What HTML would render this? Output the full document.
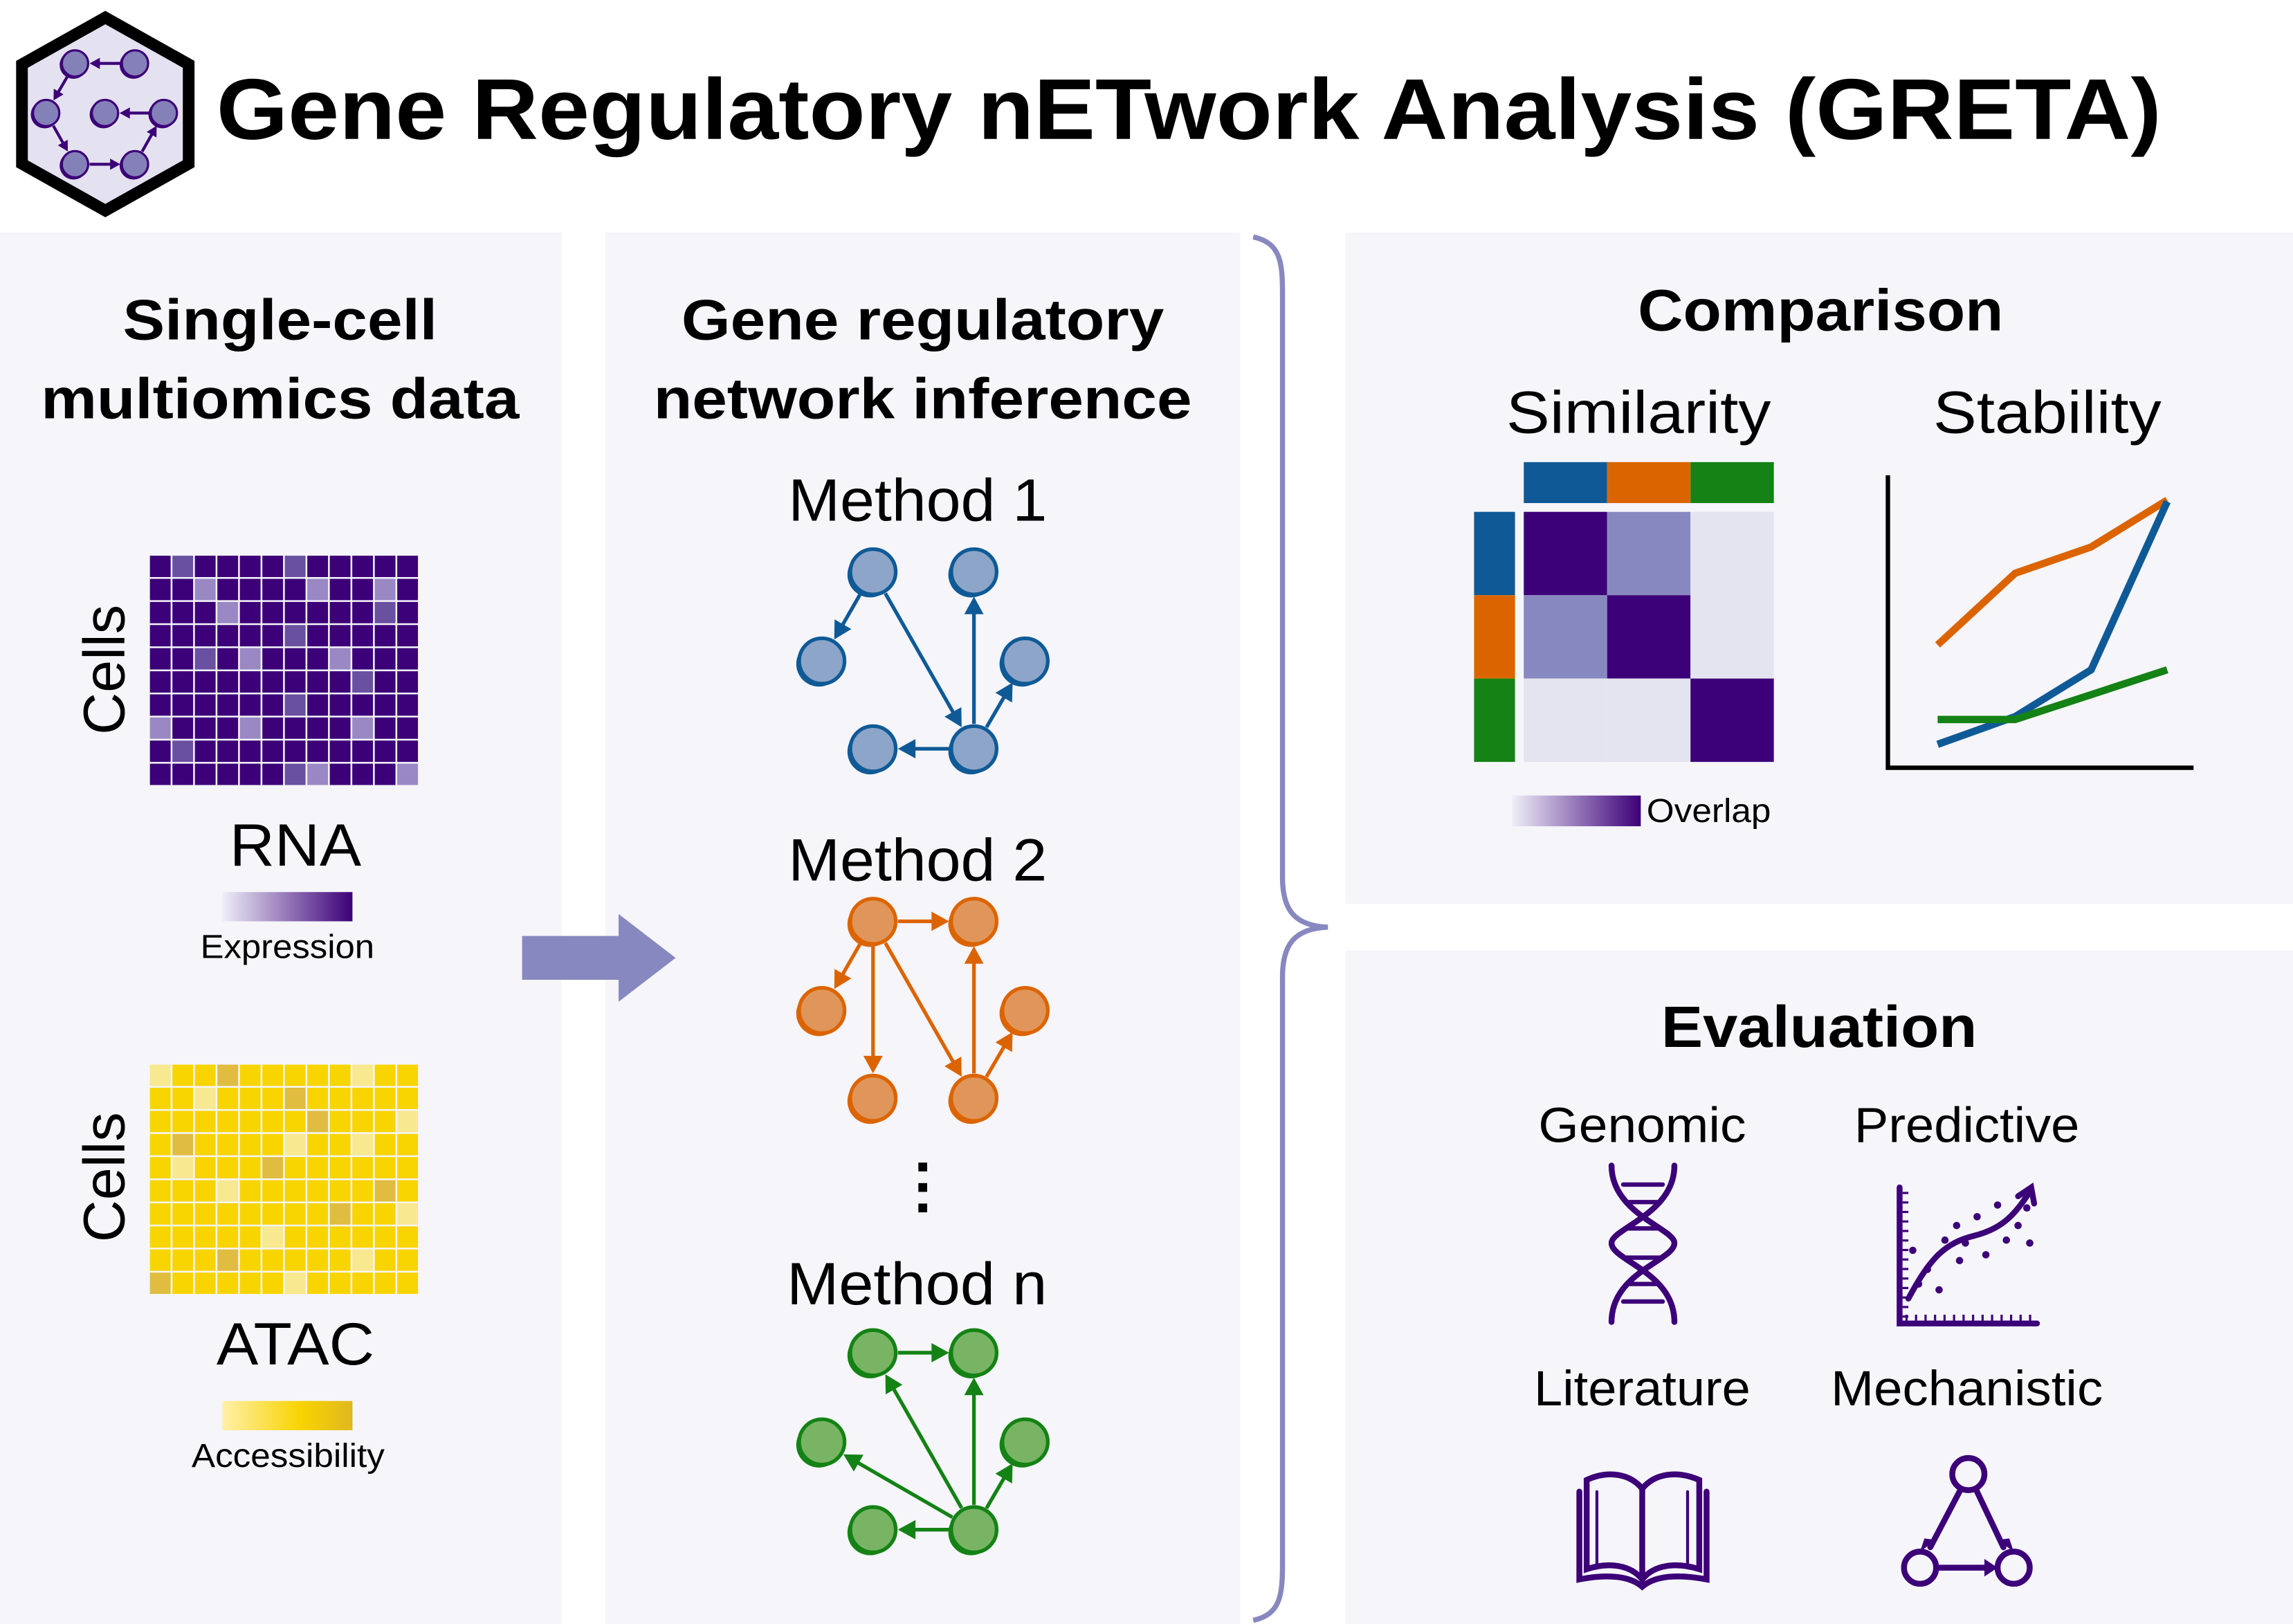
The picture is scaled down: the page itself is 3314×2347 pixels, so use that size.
<!DOCTYPE html>
<html><head><meta charset="utf-8"><style>html,body{margin:0;padding:0;background:#fff}svg{display:block}text{font-family:"Liberation Sans",Arial,sans-serif}</style></head>
<body>
<svg id="s" xmlns="http://www.w3.org/2000/svg" width="3314" height="2347" viewBox="0 0 1568 1110.5">
<defs>
<linearGradient id="gE" x1="0" x2="1"><stop offset="0" stop-color="#eeeef8"/><stop offset="1" stop-color="#3c0078"/></linearGradient>
<linearGradient id="gA" x1="0" x2="1"><stop offset="0" stop-color="#fff0a8"/><stop offset="0.6" stop-color="#f8d400"/><stop offset="1" stop-color="#e0b820"/></linearGradient>
<linearGradient id="gO" x1="0" x2="1"><stop offset="0" stop-color="#eeeef8"/><stop offset="1" stop-color="#3c0078"/></linearGradient>
</defs>
<rect width="1568" height="1110.5" fill="#fff"/>
<rect x="0" y="159" width="384" height="952" fill="#f5f5fa"/>
<rect x="414" y="159" width="434" height="952" fill="#f5f5fa"/>
<rect x="920" y="159" width="648" height="459" fill="#f5f5fa"/>
<rect x="920" y="650" width="648" height="461" fill="#f5f5fa"/>
<!-- brace -->
<path d="M857 162 C875 166 877 178 877 200 L877 600 C877 622 885 633 908 634 C885 635 877 646 877 668 L877 1070 C877 1092 875 1104 857 1108" fill="none" stroke="#8888c0" stroke-width="3.5"/>
<!-- logo -->
<polygon points="72,12 129,44 129,112 72,144 15,112 15,44" fill="#e4e2f0" stroke="#000" stroke-width="8" stroke-linejoin="miter"/>
<g id="logo"></g>
<text x="148" y="95" font-size="59" font-weight="bold" textLength="1330" lengthAdjust="spacingAndGlyphs">Gene Regulatory nETwork Analysis (GRETA)</text>
<!-- left -->
<text x="28" y="232" font-size="39" font-weight="bold" textLength="0" style="display:none"></text>
<text x="84" y="232" font-size="39" font-weight="bold" textLength="215" lengthAdjust="spacingAndGlyphs">Single-cell</text>
<text x="28" y="286" font-size="39" font-weight="bold" textLength="327" lengthAdjust="spacingAndGlyphs">multiomics data</text>
<text transform="translate(85,458) rotate(-90)" font-size="40" text-anchor="middle">Cells</text>
<text transform="translate(85,805) rotate(-90)" font-size="40" text-anchor="middle">Cells</text>
<g id="rna"></g><g id="atac"></g>
<text x="157" y="592" font-size="41" textLength="90" lengthAdjust="spacingAndGlyphs">RNA</text>
<rect x="152" y="610" width="89" height="20" fill="url(#gE)"/>
<text x="137" y="655" font-size="23" textLength="119" lengthAdjust="spacingAndGlyphs">Expression</text>
<text x="148" y="933" font-size="41" textLength="108" lengthAdjust="spacingAndGlyphs">ATAC</text>
<rect x="152" y="958" width="89" height="20" fill="url(#gA)"/>
<text x="131" y="1003" font-size="23" textLength="132" lengthAdjust="spacingAndGlyphs">Accessibility</text>
<polygon points="357,640 423,640 423,625 462,655 423,685 423,670 357,670" fill="#8888c0"/>
<!-- middle -->
<text x="466" y="232" font-size="39" font-weight="bold" textLength="330" lengthAdjust="spacingAndGlyphs">Gene regulatory</text>
<text x="447" y="286" font-size="39" font-weight="bold" textLength="368" lengthAdjust="spacingAndGlyphs">network inference</text>
<text x="539" y="356" font-size="41" textLength="177" lengthAdjust="spacingAndGlyphs">Method 1</text>
<text x="539" y="602" font-size="41" textLength="177" lengthAdjust="spacingAndGlyphs">Method 2</text>
<text x="538" y="892" font-size="41" textLength="178" lengthAdjust="spacingAndGlyphs">Method n</text>
<rect x="628" y="795" width="6" height="6" fill="#000"/><rect x="628" y="809" width="6" height="6" fill="#000"/><rect x="628" y="823" width="6" height="6" fill="#000"/>
<g id="nets"></g>
<!-- comparison -->
<text x="1120" y="226" font-size="40" font-weight="bold" textLength="250" lengthAdjust="spacingAndGlyphs">Comparison</text>
<text x="1030" y="296" font-size="41" textLength="181" lengthAdjust="spacingAndGlyphs">Similarity</text>
<text x="1322" y="296" font-size="41" textLength="156" lengthAdjust="spacingAndGlyphs">Stability</text>
<rect x="1042" y="316" width="57" height="28" fill="#0f5a96"/><rect x="1099" y="316" width="57" height="28" fill="#dc6400"/><rect x="1156" y="316" width="57" height="28" fill="#148214"/>
<rect x="1008" y="350" width="28" height="57" fill="#0f5a96"/><rect x="1008" y="407" width="28" height="57" fill="#dc6400"/><rect x="1008" y="464" width="28" height="57" fill="#148214"/>
<rect x="1042" y="350" width="57" height="57" fill="#3c0078"/><rect x="1099" y="350" width="57" height="57" fill="#8888c0"/><rect x="1156" y="350" width="57" height="57" fill="#e4e4f0"/>
<rect x="1042" y="407" width="57" height="57" fill="#8888c0"/><rect x="1099" y="407" width="57" height="57" fill="#3c0078"/><rect x="1156" y="407" width="57" height="57" fill="#e4e4f0"/>
<rect x="1042" y="464" width="57" height="57" fill="#e4e4f0"/><rect x="1099" y="464" width="57" height="57" fill="#e4e4f0"/><rect x="1156" y="464" width="57" height="57" fill="#3c0078"/>
<rect x="1034" y="544" width="88" height="21" fill="url(#gO)"/>
<text x="1126" y="562" font-size="23" textLength="85" lengthAdjust="spacingAndGlyphs">Overlap</text>
<polyline points="1291,325 1291,525 1500,525" fill="none" stroke="#000" stroke-width="3"/>
<polyline points="1325,441 1378,392 1430,374 1482,342" fill="none" stroke="#dc6400" stroke-width="5"/>
<polyline points="1325,509 1378,490 1430,458 1482,343" fill="none" stroke="#0f5a96" stroke-width="5"/>
<polyline points="1325,492 1378,492 1482,458" fill="none" stroke="#148214" stroke-width="5"/>
<!-- evaluation -->
<text x="1136" y="716" font-size="40" font-weight="bold" textLength="216" lengthAdjust="spacingAndGlyphs">Evaluation</text>
<text x="1052" y="781" font-size="34" textLength="142" lengthAdjust="spacingAndGlyphs">Genomic</text>
<text x="1268" y="781" font-size="34" textLength="154" lengthAdjust="spacingAndGlyphs">Predictive</text>
<text x="1049" y="961" font-size="34" textLength="148" lengthAdjust="spacingAndGlyphs">Literature</text>
<text x="1252" y="961" font-size="34" textLength="186" lengthAdjust="spacingAndGlyphs">Mechanistic</text>
<g stroke="#3c0078" fill="none" stroke-width="4" stroke-linecap="round">
<path d="M1102 797 C1102 830 1145 840 1145 850 C1145 862 1102 870 1102 904"/>
<path d="M1145 797 C1145 830 1102 840 1102 850 C1102 862 1145 870 1145 904"/>
<path d="M1110 810H1137M1114 822H1133M1112 840H1135M1112 860H1135M1114 878H1133M1110 890H1137" stroke-width="3"/>
<polyline points="1299,812 1299,905 1393,905"/>
<path d="M1305 888 C1320 860 1330 850 1350 845 C1370 840 1378 830 1388 815"/>
<path d="M1380 818 L1389 812 L1391 823"/>
<path d="M1085 1012 C1100 1005 1115 1008 1123 1018 C1131 1008 1146 1005 1162 1012 L1162 1073 C1146 1068 1131 1070 1123 1080 C1115 1070 1100 1068 1085 1073 Z"/>
<path d="M1080 1020 L1080 1080 C1100 1076 1115 1078 1123 1085 C1131 1078 1146 1076 1167 1080 L1167 1020"/>
<line x1="1123" y1="1018" x2="1123" y2="1080"/>
<path d="M1092 1020 L1092 1070 M1154 1020 L1154 1070" stroke-width="2"/>
<circle cx="1346" cy="1008" r="11"/><circle cx="1313" cy="1072" r="11"/><circle cx="1377" cy="1072" r="11"/>
<line x1="1341" y1="1018" x2="1320" y2="1058"/><line x1="1351" y1="1018" x2="1370" y2="1058"/><line x1="1324" y1="1072" x2="1362" y2="1072"/>
</g>
<g fill="#3c0078">
<polygon points="1313,1061 1324,1053 1316,1052"/><polygon points="1377,1061 1366,1053 1374,1052"/><polygon points="1366,1072 1357,1066 1357,1078"/>
</g>
<g id="dots" fill="#3c0078"></g>
</svg>
<script>
var NS="http://www.w3.org/2000/svg";
function el(p,t,a){var e=document.createElementNS(NS,t);for(var k in a)e.setAttribute(k,a[k]);p.appendChild(e);return e;}
var mid={"0,1":1,"0,6":1,"2,10":1,"3,6":1,"4,2":1,"5,9":1,"6,6":1,"8,1":1,"9,6":1};
var lt={"1,2":1,"1,7":1,"1,10":1,"2,3":1,"4,4":1,"4,8":1,"7,0":1,"7,4":1,"7,9":1,"9,7":1,"9,11":1};
function grid(id,y0,c0,c1,c2){var g=document.getElementById(id);var w=(287-102.5)/12,h=158/10;
for(var r=0;r<10;r++)for(var c=0;c<12;c++){var k=r+","+c;var f=mid[k]?c1:(lt[k]?c2:c0);
el(g,"rect",{x:102.5+c*w,y:y0+r*h,width:w-1.2,height:h-1.2,fill:f});}}
grid("rna",380,"#3c0078","#6a50a0","#9a88c4");
mid={"0,3":1,"1,6":1,"3,1":1,"4,5":1,"5,10":1,"6,8":1,"8,3":1,"9,0":1,"2,7":1};
lt={"0,0":1,"0,9":1,"1,2":1,"2,11":1,"3,6":1,"4,1":1,"5,3":1,"6,11":1,"7,5":1,"8,9":1,"9,6":1,"3,9":1};
grid("atac",728,"#f8d400","#e0bc40","#f8e890");
var N=document.getElementById("nets");
function node(g,x,y,r,f,s){el(g,"circle",{cx:x-2,cy:y+2,r:r,fill:s});el(g,"circle",{cx:x,cy:y,r:r,fill:f,stroke:s,"stroke-width":2.5});}
function arrow(g,x1,y1,x2,y2,r,s,hs,sw){var dx=x2-x1,dy=y2-y1,L=Math.hypot(dx,dy),ux=dx/L,uy=dy/L;
var sx=x1+ux*r,sy=y1+uy*r,ex=x2-ux*r,ey=y2-uy*r;el(g,"line",{x1:sx,y1:sy,x2:ex-ux*hs*0.8,y2:ey-uy*hs*0.8,stroke:s,"stroke-width":sw});
var bx=ex-ux*hs,by=ey-uy*hs,px=-uy*hs*0.55,py=ux*hs*0.55;
el(g,"polygon",{points:ex+","+ey+" "+(bx+px)+","+(by+py)+" "+(bx-px)+","+(by-py),fill:s});}
function net(y0,f,s,edges){var P=[[597,y0],[666,y0],[562,y0+61],[701,y0+61],[597,y0+121],[666,y0+121]];
var g=el(N,"g",{});edges.forEach(function(e){arrow(g,P[e[0]][0],P[e[0]][1],P[e[1]][0],P[e[1]][1],17,s,12,2.5);});
P.forEach(function(p){node(g,p[0],p[1],15.5,f,s);});}
net(391,"#8ca5c8","#0f5a96",[[0,2],[0,5],[5,1],[5,3],[5,4]]);
net(630,"#e0965a","#dc6400",[[0,1],[0,2],[0,4],[0,5],[5,1],[5,3]]);
net(925,"#78b464","#148214",[[0,1],[5,0],[5,1],[5,2],[5,3],[5,4]]);
var L=document.getElementById("logo");
var lp=[[325,275],[585,275],[200,490],[455,490],[710,490],[325,712],[585,712]].map(function(p){return [p[0]/6.34,p[1]/6.34];});
[[1,0],[0,2],[2,5],[5,6],[6,4],[4,3]].forEach(function(e){arrow(L,lp[e[0]][0],lp[e[0]][1],lp[e[1]][0],lp[e[1]][1],10,"#3c0078",7,2);});
lp.forEach(function(p){el(L,"circle",{cx:p[0]-1,cy:p[1]+1,r:9.5,fill:"#3c0078"});el(L,"circle",{cx:p[0],cy:p[1],r:9,fill:"#8480b8",stroke:"#3c0078","stroke-width":1.5});});
var D=document.getElementById("dots");
[[1308,855],[1312,878],[1318,868],[1326,882],[1330,848],[1340,862],[1338,838],[1352,832],[1358,858],[1366,824],[1372,848],[1380,838],[1386,826],[1388,850],[1344,850]].forEach(function(p){el(D,"circle",{cx:p[0],cy:p[1],r:2.5});});
for(var i=0;i<14;i++){el(D,"rect",{x:1303+i*6.5,y:899,width:1.5,height:4});el(D,"rect",{x:1301,y:815+i*6.5,width:4,height:1.5});}
</script>
</body></html>
